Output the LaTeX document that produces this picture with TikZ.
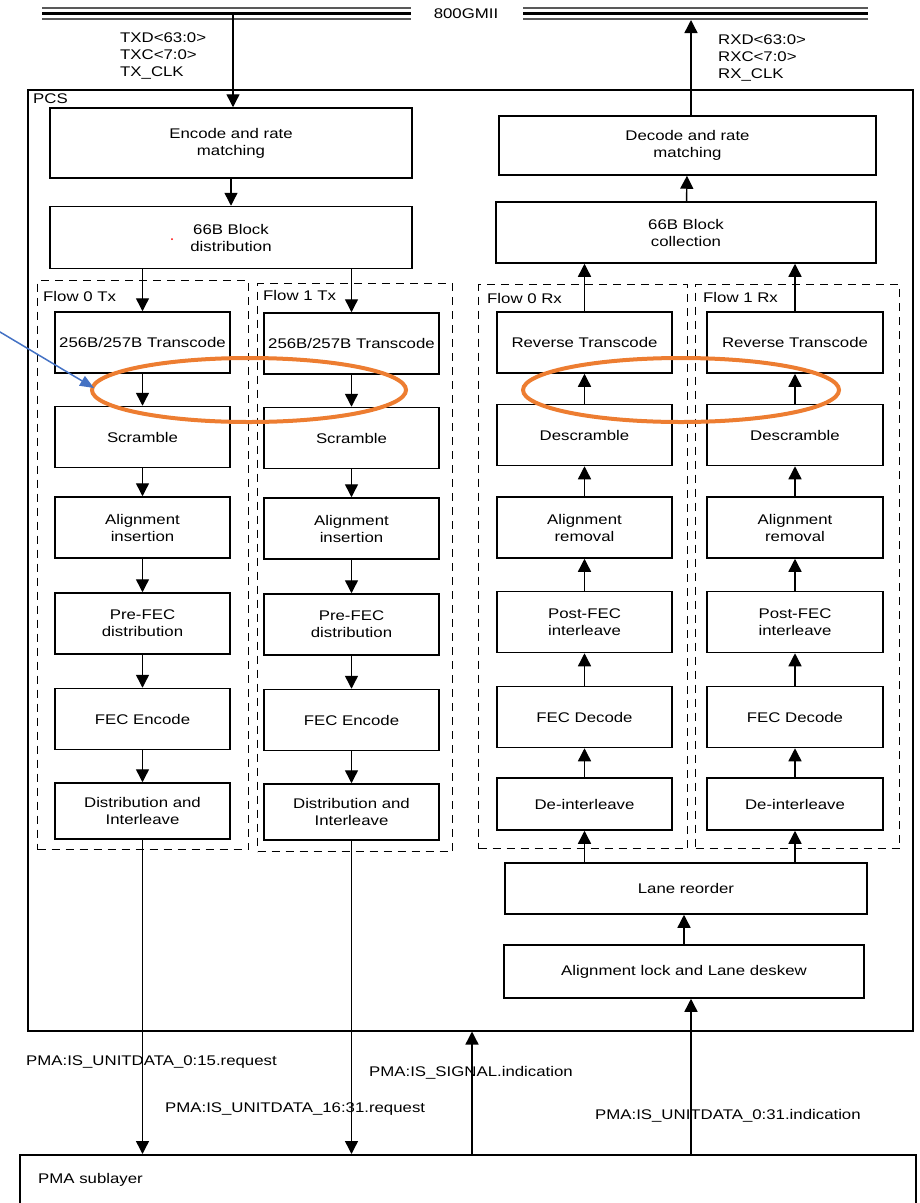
\documentclass[tikz,border=0pt]{standalone}
\usepackage{fontspec}
\setmainfont{Liberation Sans}[FakeStretch=1.2]
\usepackage{tikz}
\usetikzlibrary{arrows.meta,positioning,calc}
\definecolor{ringorange}{HTML}{ED7D31}
\definecolor{pointblue}{HTML}{4472C4}

\begin{document}
\begin{tikzpicture}[x=1pt, y=-1pt, every node/.style={font=\fontsize{14}{17}\selectfont},
  blk/.style={draw, line width=1.5pt, align=center, inner sep=0pt, minimum width=175pt, minimum height=61pt},
  wideblk/.style={blk, minimum width=360pt},
  flowbox/.style={draw, dash pattern=on 8pt off 6pt, line width=1.4pt, anchor=north west, inner sep=0pt},
  sig/.style={-{Triangle[length=13pt,width=13pt]}, line width=1.4pt},
  lbl/.style={anchor=west, inner sep=0pt},
  ring/.style={draw=ringorange, line width=4pt}]

  \useasboundingbox (0,0) rectangle (920,1203);

  \node (gmii) at (466,14) {800GMII};
  \draw[black!65, line width=2pt] (42,8) -- (411,8) (523,8) -- (868,8) (42,18.5) -- (411,18.5) (523,18.5) -- (868,18.5);
  \draw[black, line width=2.6pt] (42,13.3) -- (411,13.3) (523,13.3) -- (868,13.3);

  \node[draw, line width=1.5pt, anchor=north west, minimum width=885pt, minimum height=941pt, inner sep=0pt] (pcs) at (27,89) {};
  \node[lbl] (pcslbl) at (33,99) {PCS};
  \node[draw, line width=1.5pt, anchor=north west, minimum width=896pt, minimum height=90pt, inner sep=0pt] (pma) at (19,1154) {};
  \node[lbl] (pmalbl) at (38,1180) {PMA sublayer};

  \node[lbl, align=left] (txsig) at (120,56) {TXD<63:0>\\TXC<7:0>\\TX\_CLK};
  \node[lbl, align=left] (rxsig) at (718,58) {RXD<63:0>\\RXC<7:0>\\RX\_CLK};
  \coordinate (txin) at (233,14);
  \coordinate (rxout) at (691,20);

  \node[wideblk, minimum width=362pt, minimum height=70pt] (enc) at (231,143) {Encode and rate\\matching};
  \node[wideblk, minimum width=362pt, minimum height=62pt] (dist66) at (231,237.5) {66B Block\\distribution};
  \fill[red] (172,239) circle[radius=1pt];
  \node[wideblk, minimum width=377pt, minimum height=59pt] (dec) at (687.5,145.5) {Decode and rate\\matching};
  \node[wideblk, minimum width=380pt, minimum height=61pt] (coll66) at (686,232.5) {66B Block\\collection};

  \node[flowbox, minimum width=211pt, minimum height=569pt] (f0tx) at (37,280) {};
  \node[flowbox, minimum width=195pt, minimum height=568pt] (f1tx) at (257,283) {};
  \node[flowbox, minimum width=209pt, minimum height=564pt] (f0rx) at (478,284) {};
  \node[flowbox, minimum width=204pt, minimum height=564pt] (f1rx) at (695,284) {};
  \node[lbl] (f0txlbl) at (43,296) {Flow 0 Tx};
  \node[lbl] (f1txlbl) at (263,295) {Flow 1 Tx};
  \node[lbl] (f0rxlbl) at (487,298) {Flow 0 Rx};
  \node[lbl] (f1rxlbl) at (703,297) {Flow 1 Rx};

  \node[blk] (trans0) at (142.5,342.5) {256B/257B Transcode};
  \node[blk] (scram0) at (142.5,437) {Scramble};
  \node[blk] (ains0) at (142.5,527.5) {Alignment\\insertion};
  \node[blk] (prefec0) at (142.5,623.5) {Pre-FEC\\distribution};
  \node[blk] (fecenc0) at (142.5,719) {FEC Encode};
  \node[blk, minimum height=56pt] (dint0) at (142.5,811) {Distribution and\\Interleave};

  \node[blk] (trans1) at (351.5,343.5) {256B/257B Transcode};
  \node[blk] (scram1) at (351.5,438) {Scramble};
  \node[blk] (ains1) at (351.5,528.5) {Alignment\\insertion};
  \node[blk] (prefec1) at (351.5,624.5) {Pre-FEC\\distribution};
  \node[blk] (fecenc1) at (351.5,720) {FEC Encode};
  \node[blk, minimum height=56pt] (dint1) at (351.5,812) {Distribution and\\Interleave};

  \node[blk] (rtrans0) at (584.5,342.5) {Reverse Transcode};
  \node[blk] (dscram0) at (584.5,435) {Descramble};
  \node[blk] (arem0) at (584.5,527.5) {Alignment\\removal};
  \node[blk] (postfec0) at (584.5,622) {Post-FEC\\interleave};
  \node[blk] (fecdec0) at (584.5,717) {FEC Decode};
  \node[blk, minimum height=52pt] (deint0) at (584.5,804) {De-interleave};

  \node[blk, minimum width=176pt] (rtrans1) at (795,342.5) {Reverse Transcode};
  \node[blk, minimum width=176pt] (dscram1) at (795,435) {Descramble};
  \node[blk, minimum width=176pt] (arem1) at (795,527.5) {Alignment\\removal};
  \node[blk, minimum width=176pt] (postfec1) at (795,622) {Post-FEC\\interleave};
  \node[blk, minimum width=176pt] (fecdec1) at (795,717) {FEC Decode};
  \node[blk, minimum width=176pt, minimum height=52pt] (deint1) at (795,804) {De-interleave};

  \node[wideblk, minimum width=362pt, minimum height=51pt] (lane) at (686,888.5) {Lane reorder};
  \node[wideblk, minimum height=53pt] (lock) at (684,971.5) {Alignment lock and Lane deskew};

  \node[lbl] (req0) at (26,1062) {PMA:IS\_UNITDATA\_0:15.request};
  \node[lbl] (sigind) at (369,1073) {PMA:IS\_SIGNAL.indication};
  \node[lbl] (req1) at (165,1109) {PMA:IS\_UNITDATA\_16:31.request};
  \node[lbl] (ind) at (595,1116) {PMA:IS\_UNITDATA\_0:31.indication};
  \coordinate (sigx) at (472,1100);

  \draw[sig] (txin) -- (enc.north -| txin);
  \draw[sig] (enc) -- (dist66);
  \draw[sig] (dist66.south -| trans0) -- (trans0);
  \draw[sig] (dist66.south -| trans1) -- (trans1);
  \draw[sig] (trans0) -- (scram0);
  \draw[sig] (scram0) -- (ains0);
  \draw[sig] (ains0) -- (prefec0);
  \draw[sig] (prefec0) -- (fecenc0);
  \draw[sig] (fecenc0) -- (dint0);
  \draw[sig] (trans1) -- (scram1);
  \draw[sig] (scram1) -- (ains1);
  \draw[sig] (ains1) -- (prefec1);
  \draw[sig] (prefec1) -- (fecenc1);
  \draw[sig] (fecenc1) -- (dint1);
  \draw[sig] (dint0) -- (pma.north -| dint0);
  \draw[sig] (dint1) -- (pma.north -| dint1);

  \draw[sig] (dec.north -| rxout) -- (rxout);
  \draw[sig] (coll66) -- (dec);
  \draw[sig] (rtrans0) -- (coll66.south -| rtrans0);
  \draw[sig] (rtrans1) -- (coll66.south -| rtrans1);
  \draw[sig] (dscram0) -- (rtrans0);
  \draw[sig] (arem0) -- (dscram0);
  \draw[sig] (postfec0) -- (arem0);
  \draw[sig] (fecdec0) -- (postfec0);
  \draw[sig] (deint0) -- (fecdec0);
  \draw[sig] (dscram1) -- (rtrans1);
  \draw[sig] (arem1) -- (dscram1);
  \draw[sig] (postfec1) -- (arem1);
  \draw[sig] (fecdec1) -- (postfec1);
  \draw[sig] (deint1) -- (fecdec1);
  \draw[sig] (lane.north -| deint0) -- (deint0);
  \draw[sig] (lane.north -| deint1) -- (deint1);
  \draw[sig] (lock) -- (lock |- lane.south);
  \draw[sig] (pma.north -| rxout) -- (lock.south -| rxout);
  \draw[sig] (pma.north -| sigx) -- (pcs.south -| sigx);

  \draw[ring] (249,390) ellipse [x radius=157pt, y radius=32pt];
  \draw[ring] (681,390) ellipse [x radius=158pt, y radius=32pt];
  \coordinate (note) at (-5,329);
  \coordinate (notetip) at (94,388);
  \draw[pointblue, line width=1.5pt, -{Triangle[length=14pt,width=11pt]}] (note) -- (notetip);
\end{tikzpicture}
\end{document}
